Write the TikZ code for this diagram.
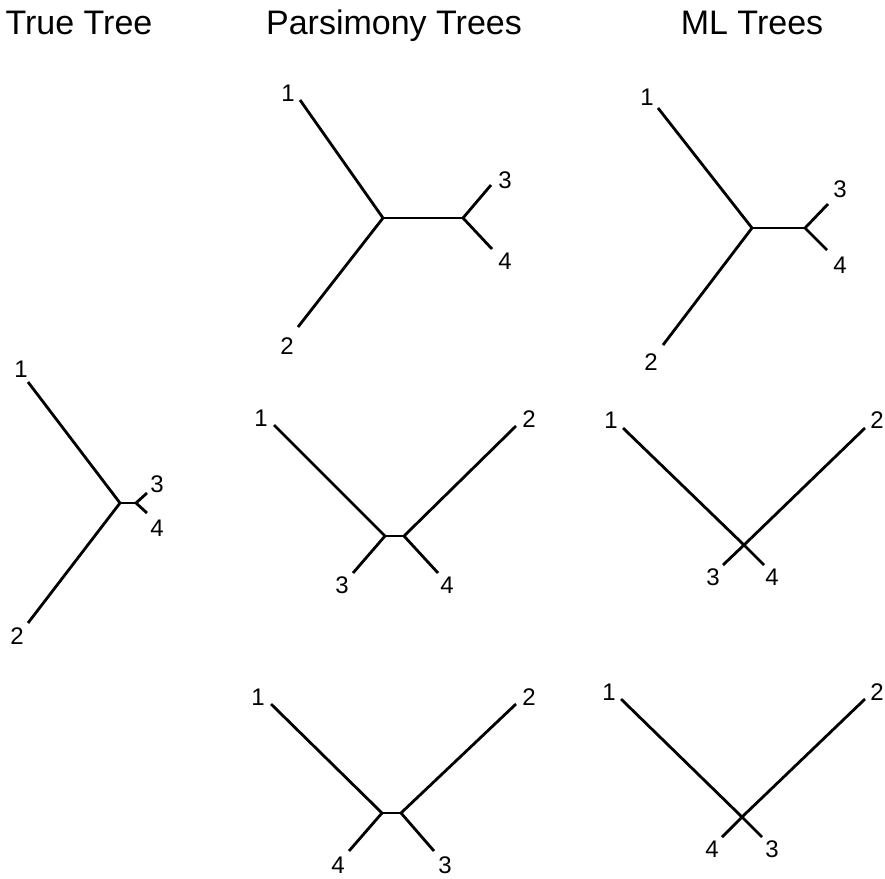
\documentclass[tikz,border=0pt]{standalone}
\usepackage{fontspec}
\setmainfont{Liberation Sans}
\begin{document}
\begin{tikzpicture}[x=1pt,y=-1pt,
  edge/.style={line width=2.8pt},
  leaf/.style={font=\fontsize{24}{24}\selectfont, inner sep=0pt},
  title/.style={font=\fontsize{34}{34}\selectfont, inner sep=0pt, anchor=base}]
\useasboundingbox (0,0) rectangle (885,878);
% titles
\node[title] (ttrue) at (79,34) {True Tree};
\node[title] (tpars) at (394,34) {Parsimony Trees};
\node[title] (tml) at (752,34) {ML Trees};

% True tree
\coordinate (T1) at (28,382);
\coordinate (T2) at (28,623);
\coordinate (Tc) at (120,503);
\coordinate (Ti) at (136,503);
\coordinate (T3) at (147,493);
\coordinate (T4) at (147,513);
\draw[edge] (T1) -- (Tc) -- (T2);
\draw[edge] (Tc) -- (Ti);
\draw[edge] (T3) -- (Ti) -- (T4);
\node[leaf] (lT1) at (21,369) {1};
\node[leaf] (lT2) at (17,636) {2};
\node[leaf] (lT3) at (157,484) {3};
\node[leaf] (lT4) at (157,528) {4};

% Parsimony top
\coordinate (P1) at (300,100);
\coordinate (P2) at (298,327);
\coordinate (Pc) at (383,218);
\coordinate (Pi) at (463,218);
\coordinate (P3) at (491,185);
\coordinate (P4) at (492,249);
\draw[edge] (P1) -- (Pc) -- (P2);
\draw[edge] (Pc) -- (Pi);
\draw[edge] (P3) -- (Pi) -- (P4);
\node[leaf] (lP1) at (288,93) {1};
\node[leaf] (lP2) at (287,346) {2};
\node[leaf] (lP3) at (505,180) {3};
\node[leaf] (lP4) at (505,261) {4};

% ML top
\coordinate (M1) at (658,108);
\coordinate (M2) at (663,345);
\coordinate (Mc) at (752,228);
\coordinate (Mi) at (805,228);
\coordinate (M3) at (828,204);
\coordinate (M4) at (827,250);
\draw[edge] (M1) -- (Mc) -- (M2);
\draw[edge] (Mc) -- (Mi);
\draw[edge] (M3) -- (Mi) -- (M4);
\node[leaf] (lM1) at (647,97) {1};
\node[leaf] (lM2) at (651,362) {2};
\node[leaf] (lM3) at (840,189) {3};
\node[leaf] (lM4) at (840,265) {4};

% Parsimony middle
\coordinate (Q1) at (274,425);
\coordinate (Q2) at (516,426);
\coordinate (Ql) at (385,536);
\coordinate (Qr) at (404,536);
\coordinate (Q3) at (353,573);
\coordinate (Q4) at (438,573);
\draw[edge] (Q1) -- (Ql) -- (Q3);
\draw[edge] (Ql) -- (Qr);
\draw[edge] (Q2) -- (Qr) -- (Q4);
\node[leaf] (lQ1) at (261,418) {1};
\node[leaf] (lQ2) at (529,419) {2};
\node[leaf] (lQ3) at (342,585) {3};
\node[leaf] (lQ4) at (447,585) {4};

% ML middle
\coordinate (N1) at (623,428);
\coordinate (N2) at (865,428);
\coordinate (Nc) at (744,545);
\coordinate (N3) at (723,565);
\coordinate (N4) at (764,565);
\draw[edge] (N1) -- (Nc) -- (N4);
\draw[edge] (N2) -- (Nc) -- (N3);
\node[leaf] (lN1) at (611,420) {1};
\node[leaf] (lN2) at (877,420) {2};
\node[leaf] (lN3) at (713,577) {3};
\node[leaf] (lN4) at (772,577) {4};

% Parsimony bottom
\coordinate (R1) at (271,704);
\coordinate (R2) at (516,704);
\coordinate (Rl) at (382,813);
\coordinate (Rr) at (401,813);
\coordinate (R4) at (349,851);
\coordinate (R3) at (434,851);
\draw[edge] (R1) -- (Rl) -- (R4);
\draw[edge] (Rl) -- (Rr);
\draw[edge] (R2) -- (Rr) -- (R3);
\node[leaf] (lR1) at (258,697) {1};
\node[leaf] (lR2) at (529,697) {2};
\node[leaf] (lR4) at (338,865) {4};
\node[leaf] (lR3) at (445,865) {3};

% ML bottom
\coordinate (O1) at (621,699);
\coordinate (O2) at (865,699);
\coordinate (Oc) at (742,817);
\coordinate (O4) at (722,837);
\coordinate (O3) at (762,837);
\draw[edge] (O1) -- (Oc) -- (O3);
\draw[edge] (O2) -- (Oc) -- (O4);
\node[leaf] (lO1) at (609,692) {1};
\node[leaf] (lO2) at (877,692) {2};
\node[leaf] (lO4) at (712,849) {4};
\node[leaf] (lO3) at (772,849) {3};
\end{tikzpicture}
\end{document}
